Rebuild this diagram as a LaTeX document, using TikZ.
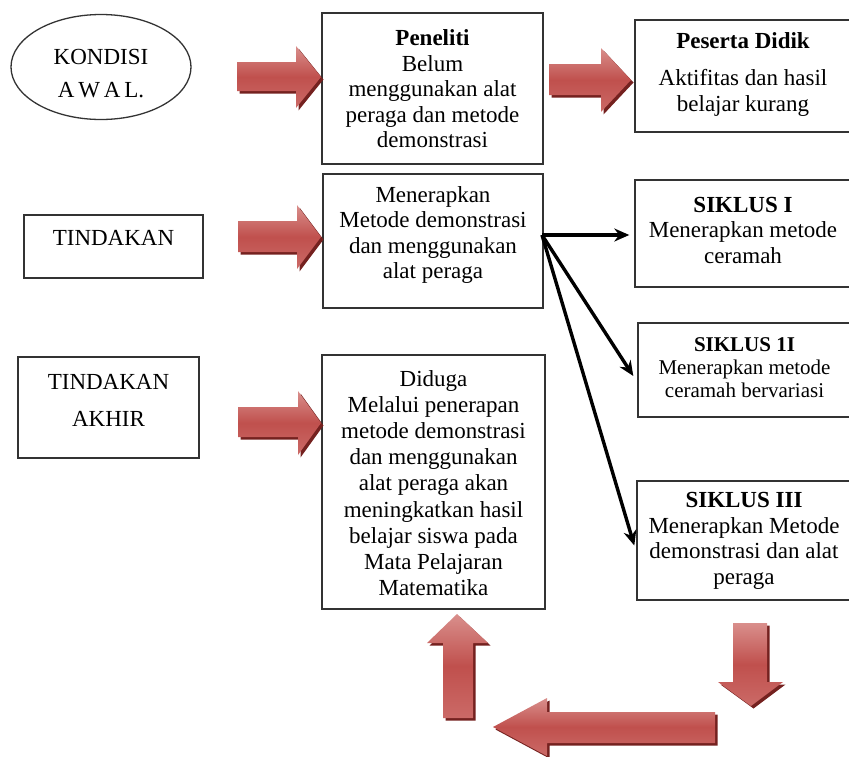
\documentclass[tikz,border=0pt]{standalone}
\usepackage{fontspec}
\setmainfont{Liberation Serif}
\usetikzlibrary{shadows,arrows.meta,shapes.geometric}
\definecolor{arrmid}{HTML}{C0504D}
\definecolor{arrlight}{HTML}{D98F8C}
\definecolor{arrbot}{HTML}{CB6A67}
\definecolor{arrshadow}{HTML}{74211F}
\definecolor{boxline}{HTML}{333333}
\begin{document}
\begin{tikzpicture}[x=1pt,y=-1pt,
  box/.style={draw=boxline, line width=1.4pt, rectangle, inner sep=0pt},
  txt/.style={align=center, font=\fontsize{23}{25.5}\selectfont, inner sep=0pt},
  smalltxt/.style={align=center, font=\fontsize{21}{23}\selectfont, inner sep=0pt},
  blockarrow/.style={top color=arrlight, bottom color=arrbot, middle color=arrmid, draw=none,
    drop shadow={shadow xshift=2.5pt, shadow yshift=-2.5pt, fill=arrshadow, opacity=1}},
  flow/.style={line width=3.4pt, -{Stealth[length=15pt,width=13pt]}}]
\useasboundingbox (0,0) rectangle (849,756);

% left column
\node[ellipse, draw=boxline, line width=1.3pt, minimum width=180pt, minimum height=105pt, inner sep=0pt] (kond) at (101,67) {};
\begin{scope}
\clip (0,0) rectangle (849,97);
\node[txt, font=\fontsize{23}{33}\selectfont] (kondT) at (101,74) {KONDISI\\A\,W\,A\,L.};
\end{scope}
\node[box, minimum width=179pt, minimum height=63pt] (tind) at (113.5,246.5) {};
\node[txt] (tindT) at (113.5,238) {TINDAKAN};
\node[box, minimum width=181pt, minimum height=101pt] (akhir) at (108.5,407.5) {};
\node[txt, font=\fontsize{23}{37}\selectfont] (akhirT) at (108.5,400) {TINDAKAN\\AKHIR};

% middle column
\node[box, minimum width=221pt, minimum height=151pt] (pen) at (432.5,88.5) {};
\node[txt] (penT) at (432.5,89) {\textbf{Peneliti}\\Belum\\menggunakan alat\\peraga dan metode\\demonstrasi};
\node[box, minimum width=220pt, minimum height=134pt] (men) at (433,241) {};
\node[txt] (menT) at (433,235) {Menerapkan\\Metode demonstrasi\\dan menggunakan\\alat peraga};
\node[box, minimum width=223pt, minimum height=254pt] (dug) at (433.5,482) {};
\node[txt, font=\fontsize{23}{26.2}\selectfont] (dugT) at (433.5,483) {Diduga\\Melalui penerapan\\metode demonstrasi\\dan menggunakan\\alat peraga akan\\meningkatkan hasil\\belajar siswa pada\\Mata Pelajaran\\Matematika};

% right column
\node[box, minimum width=216pt, minimum height=112pt] (pes) at (743,76) {};
\node[txt] (pesT) at (743,74) {\textbf{Peserta Didik}\\[12pt]Aktifitas dan hasil\\belajar kurang};
\node[box, minimum width=216pt, minimum height=107pt] (s1) at (743,233.5) {};
\node[txt] (s1T) at (743,230) {\textbf{SIKLUS I}\\Menerapkan metode\\ceramah};
\node[box, minimum width=213pt, minimum height=94pt] (s2) at (744.5,370) {};
\node[smalltxt] (s2T) at (744.5,368) {\textbf{SIKLUS 1I}\\Menerapkan metode\\ceramah bervariasi};
\node[box, minimum width=214pt, minimum height=119pt] (s3) at (744,540.5) {};
\node[txt] (s3T) at (744,541) {\textbf{SIKLUS III}\\Menerapkan Metode\\demonstrasi dan alat\\peraga};

% block arrows
\path[blockarrow] (237,62) -- (296,62) -- (296,46) -- (321,77) -- (296,108) -- (296,91) -- (237,91) -- cycle;
\path[blockarrow] (549,64) -- (601,64) -- (601,48) -- (631,80) -- (601,112) -- (601,95) -- (549,95) -- cycle;
\path[blockarrow] (238,221) -- (297,221) -- (297,205) -- (321,237) -- (297,269) -- (297,252) -- (238,252) -- cycle;
\path[blockarrow] (238,407) -- (298,407) -- (298,391) -- (321,423) -- (298,455) -- (298,437) -- (238,437) -- cycle;
\path[blockarrow] (443,718) -- (443,643) -- (427,643) -- (457,614) -- (488,643) -- (473,643) -- (473,718) -- cycle;
\path[blockarrow] (715,712) -- (547,712) -- (547,698) -- (493,727) -- (547,756) -- (547,743) -- (715,743) -- cycle;
\path[blockarrow] (733,623) -- (767,623) -- (767,682) -- (783,682) -- (751,706) -- (718,682) -- (733,682) -- cycle;

% connectors
\coordinate (src) at (542,235);
\draw[flow, shorten >=5pt] (src) -- (s1.west |- src);
\draw[flow] (src) -- ([xshift=-4pt,yshift=-6pt]s2.west);
\draw[flow] (src) -- ([xshift=-2pt,yshift=-5pt]s3.west);
\end{tikzpicture}
\end{document}
